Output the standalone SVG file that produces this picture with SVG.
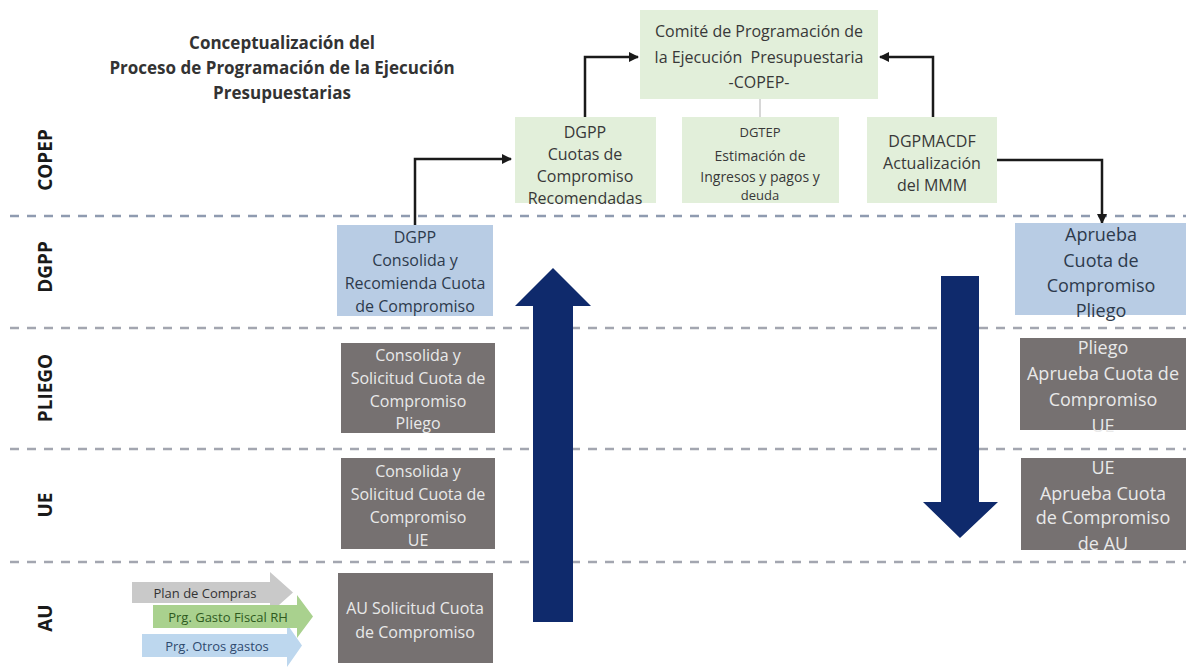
<svg xmlns="http://www.w3.org/2000/svg" width="1186" height="668" viewBox="0 0 1186 668">
<defs>
<style>
.t{font-family:"Open Sans","Liberation Sans",sans-serif;text-anchor:middle;dominant-baseline:central}
.title{font-size:17px;font-weight:bold;fill:#333}
.lane{font-size:19px;font-weight:bold;fill:#1a1a1a}
.green{fill:#e2efda}
.blue{fill:#b8cce4}
.gray{fill:#767171}
.gt{fill:#383838;font-size:16px}
.bt{fill:#2d3a4c;font-size:16px}
.wt{fill:#e9e9e9;font-size:16px}
.sep{stroke:#8f9bb0;stroke-width:2.6;stroke-dasharray:9 8;fill:none}
.conn{stroke:#1a1a1a;stroke-width:2.5;fill:none;marker-end:url(#ah)}
.big{fill:#0f2a6c}
.chev{font-size:13px}
</style>
<marker id="ah" viewBox="0 0 10 10" refX="9" refY="5" markerWidth="4" markerHeight="4" orient="auto" markerUnits="strokeWidth">
<path d="M0,0 L10,5 L0,10 z" fill="#1a1a1a"/>
</marker>
</defs>
<rect width="1186" height="668" fill="#ffffff"/>

<g id="title">
<text class="t title" x="282" y="42">Conceptualización del</text>
<text class="t title" x="282" y="67">Proceso de Programación de la Ejecución</text>
<text class="t title" x="282" y="92">Presupuestarias</text>
</g>

<g id="lanes">
<line class="sep" x1="10" y1="216" x2="1186" y2="216"/>
<line class="sep" x1="10" y1="328" x2="1186" y2="328" style="stroke:#a3a6b0"/>
<line class="sep" x1="10" y1="449" x2="1186" y2="449" style="stroke:#a3a6b0"/>
<line class="sep" x1="10" y1="562" x2="1186" y2="562" style="stroke:#a3a6b0"/>
<text class="t lane" transform="translate(45,160) rotate(-90)">COPEP</text>
<text class="t lane" transform="translate(45,267) rotate(-90)">DGPP</text>
<text class="t lane" transform="translate(45,388) rotate(-90)">PLIEGO</text>
<text class="t lane" transform="translate(45,505) rotate(-90)">UE</text>
<text class="t lane" transform="translate(45,618) rotate(-90)">AU</text>
</g>

<g id="bigarrows">
<path class="big" d="M533,622 V306 H515 L553,268 L591,306 H573 V622 Z"/>
<path class="big" d="M941,276 V502 H923 L960,538 L998,502 H979 V276 Z"/>
</g>

<g id="connectors">
<path class="conn" d="M415,225 V159 H511"/>
<path class="conn" d="M585,117 V57 H638"/>
<path class="conn" d="M933,117 V57 H880"/>
<path class="conn" d="M997,160 H1102 V223"/>
<line x1="760" y1="99" x2="760" y2="117" stroke="#b0b0b0" stroke-width="1"/>
</g>

<g id="copep">
<rect class="green" x="640" y="10" width="238" height="89"/>
<text class="t gt" x="759" y="31">Comité de Programación de</text>
<text class="t gt" x="759" y="57" xml:space="preserve">la Ejecución  Presupuestaria</text>
<text class="t gt" x="759" y="82">-COPEP-</text>
</g>

<g id="dgpp-cuotas">
<rect class="green" x="515" y="117" width="141" height="86"/>
<text class="t gt" x="585" y="132">DGPP</text>
<text class="t gt" x="585" y="154">Cuotas de</text>
<text class="t gt" x="585" y="176">Compromiso</text>
<text class="t gt" x="585" y="198">Recomendadas</text>
</g>

<g id="dgtep">
<rect class="green" x="682" y="117" width="157" height="86"/>
<text class="t gt" x="760" y="132" style="font-size:13px">DGTEP</text>
<text class="t gt" x="760" y="155" style="font-size:14px">Estimación de</text>
<text class="t gt" x="760" y="176" style="font-size:14px">Ingresos y pagos y</text>
<text class="t gt" x="760" y="195" style="font-size:13px">deuda</text>
</g>

<g id="dgpmacdf">
<rect class="green" x="867" y="117" width="130" height="86"/>
<text class="t gt" x="932" y="141">DGPMACDF</text>
<text class="t gt" x="932" y="163">Actualización</text>
<text class="t gt" x="932" y="185">del MMM</text>
</g>

<g id="dgpp-consolida">
<rect class="blue" x="337" y="225" width="156" height="91"/>
<text class="t bt" x="415" y="237">DGPP</text>
<text class="t bt" x="415" y="260">Consolida y</text>
<text class="t bt" x="415" y="283">Recomienda Cuota</text>
<text class="t bt" x="415" y="306">de Compromiso</text>
</g>

<g id="aprueba-pliego">
<rect class="blue" x="1015" y="223" width="171" height="92"/>
<text class="t bt" x="1101" y="234" style="font-size:18px">Aprueba</text>
<text class="t bt" x="1101" y="260" style="font-size:18px">Cuota de</text>
<text class="t bt" x="1101" y="285" style="font-size:18px">Compromiso</text>
<text class="t bt" x="1101" y="310" style="font-size:18px">Pliego</text>
</g>

<g id="pliego-solicitud">
<rect class="gray" x="341" y="343" width="154" height="90"/>
<text class="t wt" x="418" y="355">Consolida y</text>
<text class="t wt" x="418" y="378">Solicitud Cuota de</text>
<text class="t wt" x="418" y="401">Compromiso</text>
<text class="t wt" x="418" y="423">Pliego</text>
</g>

<g id="pliego-aprueba">
<rect class="gray" x="1020" y="338" width="166" height="92"/>
<text class="t wt" x="1103" y="347" style="font-size:18px">Pliego</text>
<text class="t wt" x="1103" y="373" style="font-size:18px">Aprueba Cuota de</text>
<text class="t wt" x="1103" y="399" style="font-size:18px">Compromiso</text>
<text class="t wt" x="1103" y="425" style="font-size:18px">UE</text>
</g>

<g id="ue-solicitud">
<rect class="gray" x="341" y="458" width="154" height="91"/>
<text class="t wt" x="418" y="471">Consolida y</text>
<text class="t wt" x="418" y="494">Solicitud Cuota de</text>
<text class="t wt" x="418" y="517">Compromiso</text>
<text class="t wt" x="418" y="540">UE</text>
</g>

<g id="ue-aprueba">
<rect class="gray" x="1021" y="458" width="165" height="92"/>
<text class="t wt" x="1103" y="467" style="font-size:18px">UE</text>
<text class="t wt" x="1103" y="493" style="font-size:18px">Aprueba Cuota</text>
<text class="t wt" x="1103" y="517" style="font-size:18px">de Compromiso</text>
<text class="t wt" x="1103" y="543" style="font-size:18px">de AU</text>
</g>

<g id="au-solicitud">
<rect class="gray" x="338" y="573" width="155" height="90"/>
<text class="t wt" x="415" y="608">AU Solicitud Cuota</text>
<text class="t wt" x="415" y="632">de Compromiso</text>
</g>

<g id="au-inputs">
<path d="M132,582 H270 V572 L293,592.5 L270,613 V603 H132 Z" fill="#c9c9c9"/>
<text class="t chev" x="205" y="593" style="fill:#333">Plan de Compras</text>
<path d="M142,634 H287 V624 L302,645.5 L287,667 V657 H142 Z" fill="#bdd7ee"/>
<text class="t chev" x="217" y="646" style="fill:#2f4a6e">Prg. Otros gastos</text>
<path d="M153,605 H297 V595 L313,616.5 L297,638 V628 H153 Z" fill="#a9d18e"/>
<text class="t chev" x="228" y="617" style="fill:#2e5a1e">Prg. Gasto Fiscal RH</text>
</g>
</svg>
